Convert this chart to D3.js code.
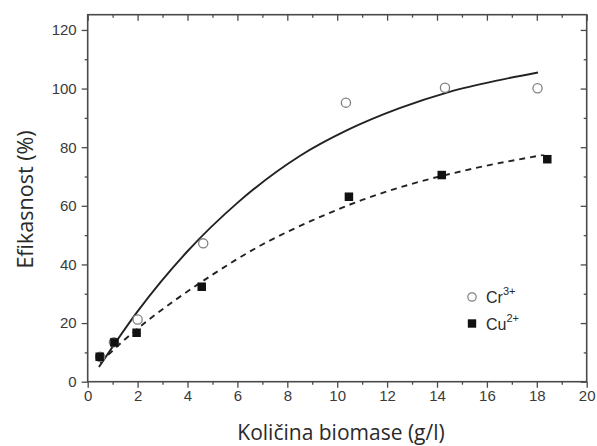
<!DOCTYPE html>
<html>
<head>
<meta charset="utf-8">
<script src="https://cdn.jsdelivr.net/npm/d3@7"></script>
<style>
  html, body { margin: 0; padding: 0; background: #fff; }
  svg { display: block; }
</style>
</head>
<body>
<svg id="chart" width="597" height="446"></svg>
<script>
// ---- Data ----
const crX = [0.5, 1.05, 2.0, 4.63, 10.35, 14.32, 18.03];
const crY = [8.5, 13.5, 21.2, 47.2, 95.2, 100.3, 100.1];
const cuX = [0.48, 1.07, 1.96, 4.57, 10.47, 14.19, 18.42];
const cuY = [8.5, 13.4, 16.7, 32.4, 63.1, 70.5, 75.9];

// fitted curves
const crFitX = [0.45, 2.0, 4.0, 6.0, 8.5, 10.4, 12.5, 14.5, 16.5, 18.05];
const crFitY = [5.0, 24.0, 44.5, 61.0, 77.0, 85.8, 93.3, 98.9, 102.9, 105.5];
const cuFitX = [0.5, 1.5, 2.5, 3.5, 5.0, 7.0, 9.0, 11.0, 13.0, 15.5, 18.3];
const cuFitY = [6.5, 14.5, 21.5, 27.8, 36.5, 46.8, 55.0, 62.0, 67.5, 72.8, 77.4];

const xTicks = [0, 2, 4, 6, 8, 10, 12, 14, 16, 18, 20];
const xMinor = [1, 3, 5, 7, 9, 11, 13, 15, 17, 19];
const yTicks = [0, 20, 40, 60, 80, 100, 120];
const yMinor = [10, 30, 50, 70, 90, 110];

const xLabel = "Količina biomase (g/l)";
const yLabel = "Efikasnost (%)";
const legendItems = [
  { base: "Cr", sup: "3+", shape: "circle" },
  { base: "Cu", sup: "2+", shape: "square" }
];

// ---- Layout ----
const L = 87.7, R = 586.7, T = 14.7, B = 381.7;
const svg = d3.select("#chart");
const x = d3.scaleLinear().domain([0, 20]).range([L, R]);
const y = d3.scaleLinear().domain([0, 125.2]).range([B, T]);

const axisColor = "#4a4a4a";
const textColor = "#3a3a3a";
const tickFont = "'Liberation Sans', Arial, sans-serif";

function styleAxis(g) {
  g.select(".domain").remove();
  g.selectAll(".tick line").attr("stroke", axisColor).attr("stroke-width", 1.3);
  g.selectAll(".tick text").attr("fill", textColor).attr("font-size", 15).attr("font-family", tickFont);
}

// bottom axis (major + minor, outward)
svg.append("g").attr("transform", `translate(0,${B})`)
  .call(d3.axisBottom(x).tickValues(xTicks).tickSize(6).tickPadding(3).tickFormat(d3.format("d")))
  .call(styleAxis);
svg.append("g").attr("transform", `translate(0,${B})`)
  .call(d3.axisBottom(x).tickValues(xMinor).tickSize(3).tickFormat(""))
  .call(styleAxis);
// top axis (mirror, inward)
svg.append("g").attr("transform", `translate(0,${T})`)
  .call(d3.axisBottom(x).tickValues(xTicks).tickSize(6).tickFormat(""))
  .call(styleAxis);
svg.append("g").attr("transform", `translate(0,${T})`)
  .call(d3.axisBottom(x).tickValues(xMinor).tickSize(3).tickFormat(""))
  .call(styleAxis);
// left axis (outward)
svg.append("g").attr("transform", `translate(${L},0)`)
  .call(d3.axisLeft(y).tickValues(yTicks).tickSize(6).tickPadding(5).tickFormat(d3.format("d")))
  .call(styleAxis);
svg.append("g").attr("transform", `translate(${L},0)`)
  .call(d3.axisLeft(y).tickValues(yMinor).tickSize(3).tickFormat(""))
  .call(styleAxis);
// right axis (mirror, inward)
svg.append("g").attr("transform", `translate(${R},0)`)
  .call(d3.axisLeft(y).tickValues(yTicks).tickSize(6).tickFormat(""))
  .call(styleAxis);
svg.append("g").attr("transform", `translate(${R},0)`)
  .call(d3.axisLeft(y).tickValues(yMinor).tickSize(3).tickFormat(""))
  .call(styleAxis);

// frame
svg.append("rect")
  .attr("x", L).attr("y", T).attr("width", R - L).attr("height", B - T)
  .attr("fill", "none").attr("stroke", axisColor).attr("stroke-width", 1.6);

// ---- Fit curves ----
const line = d3.line().x(d => x(d[0])).y(d => y(d[1])).curve(d3.curveMonotoneX);
svg.append("path")
  .datum(crFitX.map((v, i) => [v, crFitY[i]]))
  .attr("d", line).attr("fill", "none").attr("stroke", "#222").attr("stroke-width", 1.9);
svg.append("path")
  .datum(cuFitX.map((v, i) => [v, cuFitY[i]]))
  .attr("d", line).attr("fill", "none").attr("stroke", "#222").attr("stroke-width", 1.9)
  .attr("stroke-dasharray", "6,5");

// ---- Points ----
svg.append("g").selectAll("circle")
  .data(crX.map((v, i) => [v, crY[i]]))
  .join("circle")
  .attr("cx", d => x(d[0])).attr("cy", d => y(d[1])).attr("r", 4.6)
  .attr("fill", "#fff").attr("stroke", "#808080").attr("stroke-width", 1.3);

const sq = 8.5;
svg.append("g").selectAll("rect")
  .data(cuX.map((v, i) => [v, cuY[i]]))
  .join("rect")
  .attr("x", d => x(d[0]) - sq / 2).attr("y", d => y(d[1]) - sq / 2)
  .attr("width", sq).attr("height", sq).attr("fill", "#111");

// ---- Legend ----
const lg = svg.append("g");
legendItems.forEach((it, i) => {
  const cy = 297 + i * 26.5;
  if (it.shape === "circle") {
    lg.append("circle").attr("cx", 472).attr("cy", cy).attr("r", 4.2)
      .attr("fill", "#fff").attr("stroke", "#808080").attr("stroke-width", 1.2);
  } else {
    lg.append("rect").attr("x", 467.8).attr("y", cy - 4.2).attr("width", 8.4).attr("height", 8.4).attr("fill", "#111");
  }
  const t = lg.append("text").attr("x", 486).attr("y", cy + 6)
    .attr("font-family", tickFont).attr("font-size", 16).attr("fill", "#2a2a2a");
  t.append("tspan").text(it.base);
  t.append("tspan").attr("font-size", 11).attr("dy", -8).text(it.sup);
});

// ---- Axis titles ----
const titleFont = "'Open Sans', 'Noto Sans', sans-serif";
svg.append("text")
  .attr("x", 341).attr("y", 440)
  .attr("text-anchor", "middle")
  .attr("font-family", titleFont).attr("font-size", 21).attr("fill", "#2a2a2a")
  .text(xLabel);
svg.append("text")
  .attr("transform", `translate(33,199.5) rotate(-90)`)
  .attr("text-anchor", "middle")
  .attr("font-family", titleFont).attr("font-size", 21.5).attr("fill", "#2a2a2a")
  .text(yLabel);
</script>
</body>
</html>
